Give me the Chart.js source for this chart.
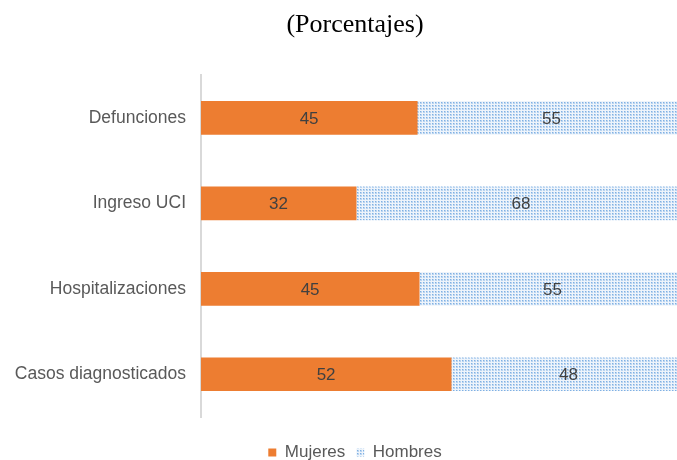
<!DOCTYPE html>
<html>
<head>
<meta charset="utf-8">
<script src="https://cdn.jsdelivr.net/npm/chart.js@4/dist/chart.umd.min.js"></script>
<style>
  html, body { margin: 0; padding: 0; background: #fff; overflow: hidden; }
  #wrap { width: 710px; height: 460px; }
</style>
</head>
<body>
<div id="wrap"><canvas id="barChart" width="710" height="460"></canvas></div>
<script>
var categories = ["Defunciones", "Ingreso UCI", "Hospitalizaciones", "Casos diagnosticados"];
var mujeres = [44.6, 32.0, 45.0, 51.6];
var hombres = [55.4, 68.0, 55.0, 48.4];

// dotted fill for Hombres
function dotPattern() {
    var c = document.createElement("canvas");
    c.width = 3; c.height = 3;
    var g = c.getContext("2d");
    g.fillStyle = "#eef4fb";
    g.fillRect(0, 0, 3, 3);
    g.fillStyle = "#b9d4f0";
    g.fillRect(0, 0, 2, 2);
    g.fillStyle = "#7fb0e3";
    g.fillRect(0, 0, 1, 1);
    return g.createPattern(c, "repeat");
}

var barLabels = {
    id: "barLabels",
    afterDatasetsDraw: function (chart) {
        var ctx = chart.ctx;
        ctx.save();
        ctx.font = "17px 'Liberation Sans', Arial, sans-serif";
        ctx.fillStyle = "#404040";
        ctx.textAlign = "center";
        ctx.textBaseline = "middle";
        chart.data.datasets.forEach(function (ds, i) {
            chart.getDatasetMeta(i).data.forEach(function (bar, j) {
                ctx.fillText(Math.round(ds.data[j]), (bar.x + bar.base) / 2, bar.y + 1);
            });
        });
        ctx.restore();
    }
};

var barData = {
    labels: categories,
    datasets: [
        {
            label: "Mujeres",
            backgroundColor: "#ED7D31",
            borderWidth: 0,
            data: mujeres
        },
        {
            label: "Hombres",
            backgroundColor: dotPattern(),
            borderWidth: 0,
            data: hombres
        }
    ]
};

var barOptions = {
    indexAxis: "y",
    responsive: false,
    animation: false,
    barThickness: 33,
    layout: { padding: { left: 13, right: 13, top: 0, bottom: -11 } },
    scales: {
        x: {
            stacked: true, min: 0, max: 102.3,
            grid: { display: false },
            border: { display: false },
            ticks: { display: false },
            afterFit: function (scale) { scale.height = 16; }
        },
        y: {
            stacked: true,
            grid: { display: false, drawTicks: false },
            border: { color: "#d9d9d9", width: 2 },
            ticks: {
                color: "#595959",
                padding: 15,
                font: { family: "'Liberation Sans', Arial, sans-serif", size: 17.5 }
            },
            afterFit: function (scale) { scale.width = 188; }
        }
    },
    plugins: {
        title: {
            display: true,
            text: "(Porcentajes)",
            color: "#000",
            font: { family: "'Liberation Serif', 'Times New Roman', serif", size: 26, weight: "normal" },
            padding: { top: 10, bottom: 34 }
        },
        legend: {
            position: "bottom",
            labels: {
                boxWidth: 8,
                boxHeight: 8,
                color: "#595959",
                padding: 11,
                font: { family: "'Liberation Sans', Arial, sans-serif", size: 17 }
            }
        },
        tooltip: { enabled: false }
    }
};

var ctx = document.getElementById("barChart").getContext("2d");
new Chart(ctx, { type: "bar", data: barData, options: barOptions, plugins: [barLabels] });
</script>
</body>
</html>
